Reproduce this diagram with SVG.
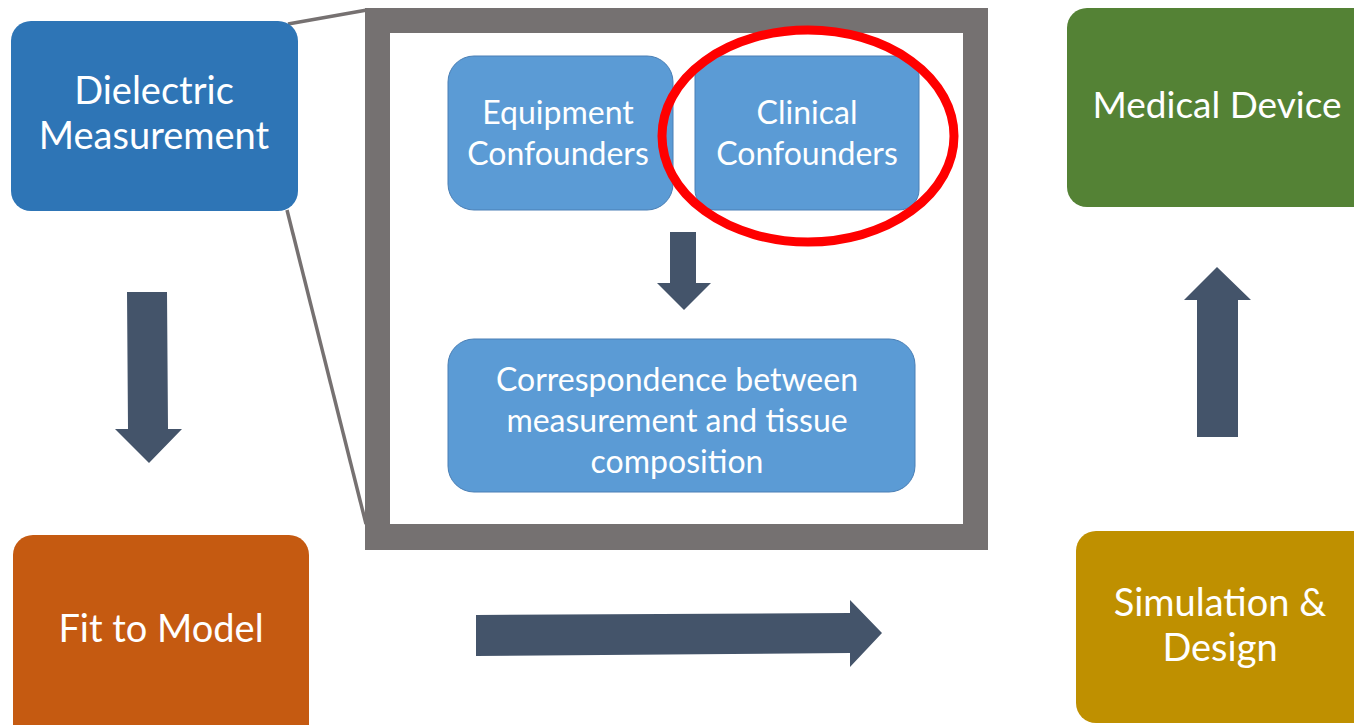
<svg xmlns="http://www.w3.org/2000/svg" width="1354" height="725" viewBox="0 0 1354 725">
<style>
.t{font-family:Lato,"Open Sans","Liberation Sans",sans-serif;fill:#ffffff;text-anchor:middle}
.big{font-size:38px}
.small{font-size:32px}
.inner{fill:#5B9BD5;stroke:#4A7FB5;stroke-width:1}
.arrow{fill:#44546A}
.zoomline{stroke:#767171;stroke-width:3.5;fill:none}
</style>
<rect width="1354" height="725" fill="#ffffff"/>
<g id="connectors">
<line class="zoomline" x1="288" y1="24" x2="367" y2="10"/>
<line class="zoomline" x1="287" y1="210" x2="366" y2="524"/>
<polygon class="arrow" points="127,292 167,292 168,429 182,429 149,463 115,429 128,429"/>
<polygon class="arrow" points="1197,437 1238,437 1238,300 1251,300 1217,267 1184,300 1197,300"/>
<polygon class="arrow" points="476,615 850,613 850,600 882,633 850,667 850,653 476,656"/>
<polygon class="arrow" points="670,232 696,232 696,283 711,283 684,310 657,283 670,283"/>
</g>
<g id="frame">
<path fill="#757171" fill-rule="evenodd" d="M365,8 H988 V550 H365 Z M390,33 V524 H963 V33 Z"/>
</g>
<g id="dielectric">
<rect x="11" y="21" width="287" height="190" rx="20" fill="#2E75B6"/>
<text class="t big" x="154" y="104">Dielectric</text>
<text class="t big" x="154" y="149">Measurement</text>
</g>
<g id="fit">
<rect x="13" y="535" width="296" height="210" rx="20" fill="#C55A11"/>
<text class="t big" x="161" y="642">Fit to Model</text>
</g>
<g id="medical">
<rect x="1067" y="8" width="310" height="199" rx="20" fill="#548235"/>
<text class="t big" x="1217" y="118" style="font-size:37px">Medical Device</text>
</g>
<g id="simulation">
<rect x="1076" y="531" width="300" height="192" rx="20" fill="#BF9000"/>
<text class="t big" x="1220" y="616">Simulation &amp;</text>
<text class="t big" x="1220" y="661">Design</text>
</g>
<g id="equipment">
<rect class="inner" x="448" y="56" width="225" height="154" rx="26"/>
<text class="t small" x="558" y="124">Equipment</text>
<text class="t small" x="558" y="165">Confounders</text>
</g>
<g id="clinical">
<rect class="inner" x="695" y="56" width="224" height="154" rx="20"/>
<text class="t small" x="807" y="124">Clinical</text>
<text class="t small" x="807" y="165">Confounders</text>
</g>
<g id="correspondence">
<rect class="inner" x="448" y="339" width="467" height="153" rx="26"/>
<text class="t small" x="677" y="391">Correspondence between</text>
<text class="t small" x="677" y="432">measurement and tissue</text>
<text class="t small" x="677" y="473">composition</text>
</g>
<g id="highlight">
<ellipse cx="808" cy="136" rx="146" ry="106" fill="none" stroke="#FF0000" stroke-width="9"/>
</g>
</svg>
